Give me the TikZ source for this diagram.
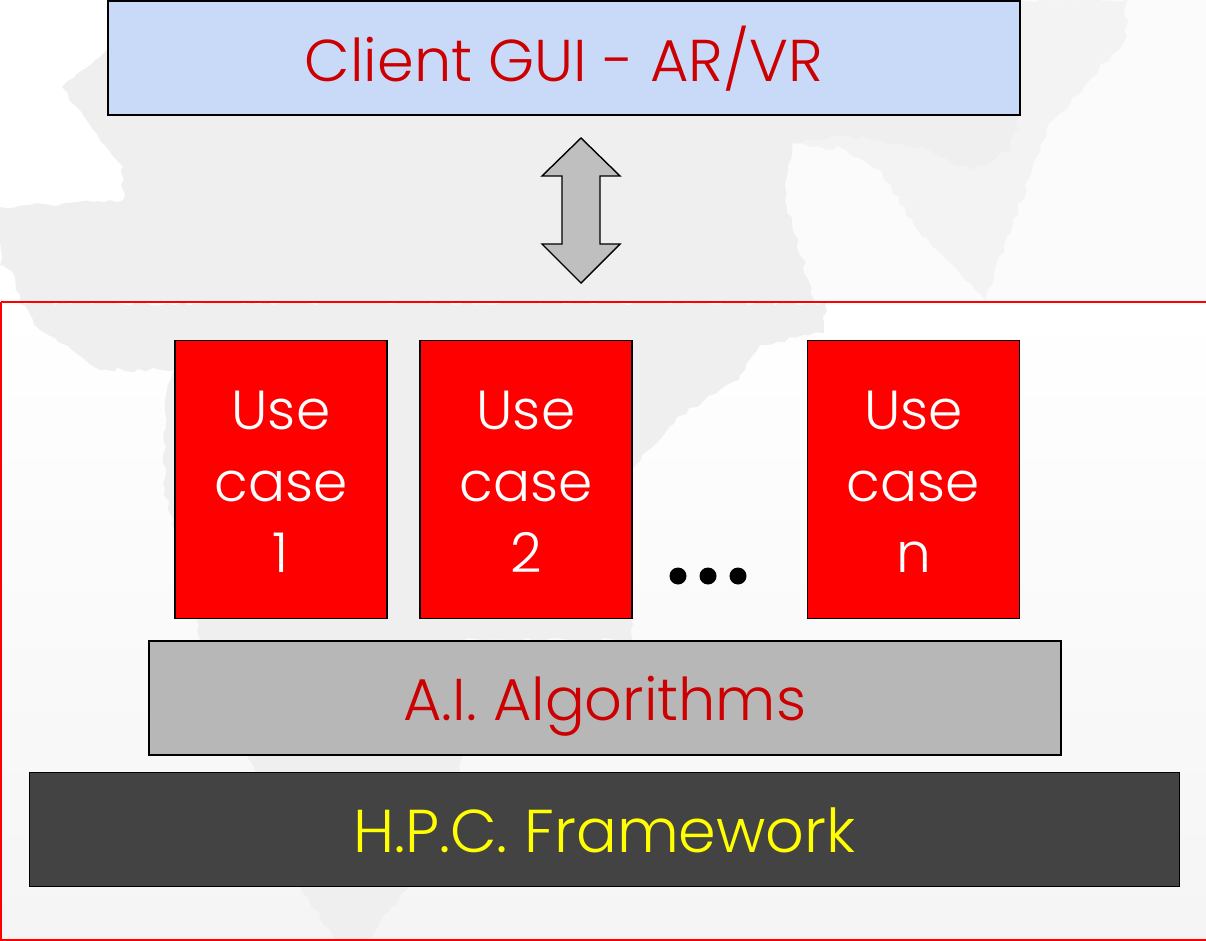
\documentclass[tikz,border=0pt]{standalone}
\usepackage{fontspec}
\usetikzlibrary{decorations.pathmorphing}
\setmainfont{Poppins}[UprightFont=* Light]
\definecolor{blueb}{HTML}{C9DAF8}
\definecolor{txtred}{HTML}{CC0000}
\definecolor{pure}{HTML}{FF0000}
\definecolor{aigray}{HTML}{B7B7B7}
\definecolor{hpc}{HTML}{434343}
\definecolor{arrowg}{HTML}{BFBFBF}
\definecolor{yel}{HTML}{FFFF00}
\definecolor{mapg}{HTML}{EFEFEF}
\definecolor{mapf}{HTML}{FBFBFB}
\definecolor{mapm}{HTML}{F3F3F3}
\newcommand{\topgap}{\rule{0pt}{44pt}}
\tikzset{
 boxbase/.style={draw=black,line width=1.8pt,anchor=north west,inner sep=0pt},
 usecase/.style={boxbase,align=center,fill=pure,text=white,minimum width=212pt,minimum height=278pt,font=\fontsize{55}{71.5}\selectfont},
 banner/.style={boxbase,minimum height=114pt,text height=46pt,text depth=0pt,font=\fontsize{59}{60}\selectfont},
 dotmark/.style={circle,fill=black,inner sep=0pt,minimum size=17pt},
 rough/.style={decorate,decoration={random steps,segment length=7pt,amplitude=2.5pt}},
}
\begin{document}
\begin{tikzpicture}[x=1pt,y=-1pt]
\useasboundingbox (0,0) rectangle (1206,941);
\fill[white] (0,0) rectangle (1206,941);
% faint map, upper part
\fill[mapf] (785,115) -- (1020,115) -- (1020,0) -- (1206,0) -- (1206,303) -- (785,303) -- cycle;
\fill[mapm,rough] (1020,0) -- (1127,0) -- (1125,40) -- (1046,130) -- (1031,173) -- (985,300) -- (915,227) -- (880,170) -- (846,150) -- (792,143) -- (760,115) -- cycle;
\fill[mapg,rough] (107,50) -- (700,50) -- (1020,115) -- (1010,150) -- (970,170) -- (930,150) -- (846,135) -- (792,143) -- (785,200) -- (815,303) -- (20,303) -- (15,277) -- (0,265) -- (0,207) -- (123,200) -- (123,167) -- (62,87) -- (100,57) -- cycle;
% faint map, inside the frame
\shade[top color=white,bottom color=white!96!black] (0,303) rectangle (1206,941);
\fill[mapg,rough] (20,303) -- (825,303) -- (824,333) -- (760,345) -- (739,380) -- (677,417) -- (632,470) -- (632,640) -- (460,640) -- (460,771) -- (410,887) -- (365,941) -- (335,941) -- (300,887) -- (255,771) -- (200,640) -- (165,490) -- (165,400) -- (175,370) -- (100,370) -- (40,330) -- cycle;
% frame
\draw[pure,line width=1.4pt] (1,302) -- (1206,302);
\draw[pure,line width=1.4pt] (1,302) -- (1,940) -- (1206,940);
% boxes
\node[banner,fill=blueb,text=txtred,minimum width=912pt] (gui) at (107,0.5) {Client GUI - AR/VR};
\node[usecase] (u1) at (174,339.5) {\topgap Use\\case\\1};
\node[usecase] (u2) at (419,339.5) {\topgap Use\\case\\2};
\node[usecase] (un) at (806.5,339.5) {\topgap Use\\case\\n};
\node[banner,fill=aigray,text=txtred,minimum width=912pt] (ai) at (148,640) {A.I. Algorithms};
\node[banner,fill=hpc,text=yel,minimum width=1150pt,font=\fontsize{60.5}{60}\selectfont] (fw) at (28.5,771.5) {H.P.C. Framework};
\node[dotmark] (d1) at (678,576) {};
\node[dotmark] (d2) at (708,576) {};
\node[dotmark] (d3) at (738,576) {};
% arrow
\draw[black,fill=arrowg,line width=1.4pt,line join=miter] (581,138) -- (620,176) -- (600,176) -- (600,244) -- (620,244) -- (581,283) -- (542,244) -- (562,244) -- (562,176) -- (542,176) -- cycle;
\end{tikzpicture}
\end{document}
